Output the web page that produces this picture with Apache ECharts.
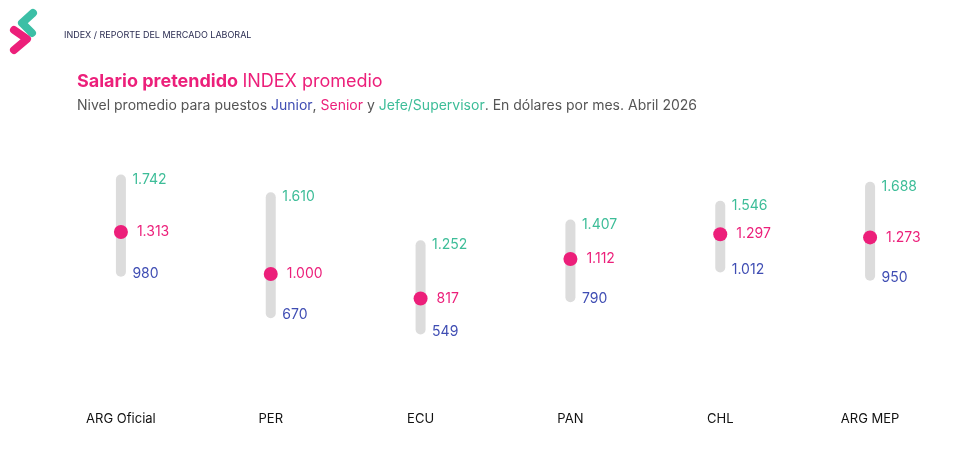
<!DOCTYPE html>
<html>
<head>
<meta charset="utf-8">
<script src="https://cdn.jsdelivr.net/npm/echarts@6/dist/echarts.min.js"></script>
<style>
html,body{margin:0;padding:0;background:#fff;}
#c{width:955px;height:453px;}
</style>
</head>
<body>
<div id="c"></div>
<script>
var categories = ['ARG Oficial', 'PER', 'ECU', 'PAN', 'CHL', 'ARG MEP'];
var junior = [980, 670, 549, 790, 1012, 950];
var senior = [1313, 1000, 817, 1112, 1297, 1273];
var jefe = [1742, 1610, 1252, 1407, 1546, 1688];

var FONT = 'Inter, "Open Sans", sans-serif';
var GREEN = '#3dbd98', PINK = '#ec1f7a', BLUE = '#3f4db3', GREY = '#dcdcdc';

function fmt(v) {
  var s = String(v);
  if (s.length > 3) s = s.slice(0, s.length - 3) + '.' + s.slice(-3);
  return s;
}

var chart = echarts.init(document.getElementById('c'));
chart.setOption({
  backgroundColor: '#fff',
  animation: false,
  textStyle: { fontFamily: FONT },
  title: [{
    left: 72, top: 68,
    text: '{b|Salario pretendido} {r|INDEX promedio}',
    textStyle: {
      rich: {
        b: { fontFamily: FONT, fontSize: 18, fontWeight: 'bold', color: PINK },
        r: { fontFamily: FONT, fontSize: 18, fontWeight: 'normal', color: PINK }
      }
    }
  }, {
    left: 72, top: 94,
    text: '{g|Nivel promedio para puestos }{j|Junior}{g|, }{s|Senior}{g| y }{f|Jefe/Supervisor}{g|. En dólares por mes. Abril 2026}',
    textStyle: {
      fontWeight: 'normal',
      rich: {
        g: { fontFamily: FONT, fontSize: 14, fontWeight: 'normal', color: '#555555' },
        j: { fontFamily: FONT, fontSize: 14, fontWeight: 'normal', color: BLUE },
        s: { fontFamily: FONT, fontSize: 14, fontWeight: 'normal', color: PINK },
        f: { fontFamily: FONT, fontSize: 14, fontWeight: 'normal', color: GREEN }
      }
    }
  }, {
    left: 59, top: 26,
    text: 'INDEX / REPORTE DEL MERCADO LABORAL',
    textStyle: { fontFamily: FONT, fontSize: 9, fontWeight: 'normal', color: '#2b2d52' }
  }],
  graphic: [
    { type: 'polyline', shape: { points: [[33, 13], [22, 23], [32, 33]] },
      style: { stroke: '#3cbfa6', lineWidth: 8, fill: null, lineCap: 'round', lineJoin: 'round' } },
    { type: 'polyline', shape: { points: [[14, 30], [27, 39], [14, 50]] },
      style: { stroke: '#ec1f7a', lineWidth: 8, fill: null, lineCap: 'round', lineJoin: 'round' } }
  ],
  grid: { left: 46, right: 10, top: 140, bottom: 45 },
  xAxis: {
    type: 'category',
    data: categories,
    axisLine: { show: false },
    axisTick: { show: false },
    axisLabel: { color: '#111', fontSize: 13, fontFamily: FONT, margin: 5 }
  },
  yAxis: {
    type: 'value', min: 0, max: 2000,
    show: false,
    splitLine: { show: false }
  },
  series: [{
    type: 'bar', stack: 'r', barWidth: 10, silent: true,
    itemStyle: { color: 'transparent' },
    data: junior
  }, {
    type: 'bar', stack: 'r', barWidth: 10, silent: true,
    itemStyle: { color: GREY, borderRadius: 5 },
    data: jefe.map(function (v, i) { return v - junior[i]; })
  }, {
    type: 'scatter', symbolSize: 1, itemStyle: { color: 'transparent', opacity: 1 },
    data: jefe,
    label: { show: true, position: 'right', distance: 11, offset: [0, 5],
      color: GREEN, fontSize: 14, fontFamily: FONT,
      formatter: function (p) { return fmt(p.value); } }
  }, {
    type: 'scatter', symbolSize: 1, itemStyle: { color: 'transparent', opacity: 1 },
    data: junior,
    label: { show: true, position: 'right', distance: 11, offset: [0, -3],
      color: BLUE, fontSize: 14, fontFamily: FONT,
      formatter: function (p) { return fmt(p.value); } }
  }, {
    type: 'scatter', symbolSize: 14, itemStyle: { color: PINK, opacity: 1 },
    data: senior,
    label: { show: true, position: 'right', distance: 9,
      color: PINK, fontSize: 14, fontFamily: FONT,
      formatter: function (p) { return fmt(p.value); } }
  }]
});
</script>
</body>
</html>
